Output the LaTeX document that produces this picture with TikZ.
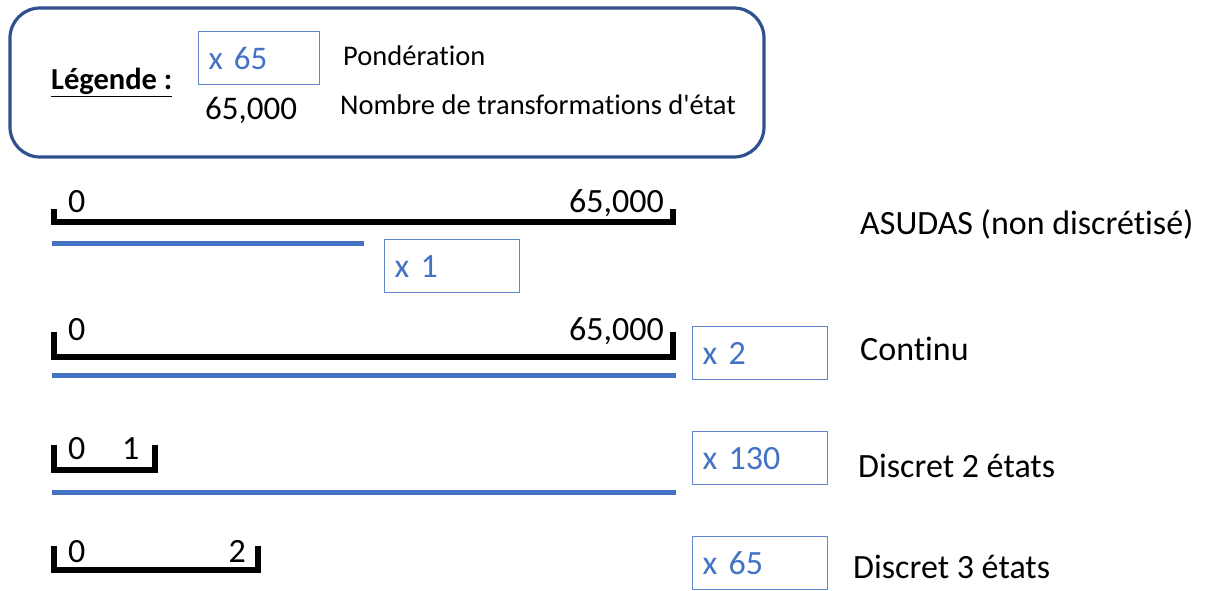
\documentclass[tikz,border=0pt]{standalone}
\usepackage{fontspec}
\setmainfont{Carlito}[Ligatures={NoCommon}]
\newfontfamily\plaincal{Carlito}[Ligatures={NoCommon}]
\definecolor{accent}{HTML}{4472C4}
\definecolor{framec}{HTML}{2F528F}
\definecolor{lightbar}{HTML}{9DB9E6}
\begin{document}
\begin{tikzpicture}[x=1pt,y=-1pt,
  lbl/.style={anchor=base west, inner sep=0pt, font=\plaincal\fontsize{34}{40}\selectfont},
  axlbl/.style={anchor=base west, inner sep=0pt, font=\plaincal\fontsize{34}{40}\selectfont},
  axlblr/.style={anchor=base east, inner sep=0pt, font=\plaincal\fontsize{34}{40}\selectfont},
  legtxt/.style={anchor=base west, inner sep=0pt, font=\plaincal\fontsize{28.5}{34}\selectfont},
  wbox/.style={draw=accent!85, line width=1.2pt, minimum height=53pt, text width=115pt,
    inner xsep=10pt, inner ysep=0pt, align=left, text=accent, font=\plaincal\fontsize{34}{40}\selectfont},
  bracketline/.style={line width=5.5pt, line cap=butt, line join=miter},
  bar/.style={draw=accent, line width=5pt},
  legendframe/.style={draw=framec, line width=3.2pt, rounded corners=30pt, minimum width=754pt, minimum height=149pt}
]
\useasboundingbox (0,0) rectangle (1209,591);

% legend
\node[legendframe] (legend) at (387,82.5) {};
\node[anchor=base west, inner sep=0pt, font=\plaincal\fontsize{30.5}{36}\selectfont\bfseries] (legtitle) at (51,90) {\underline{Légende :}};
\node[wbox, text width=101pt, minimum height=53pt, anchor=north west, font=\plaincal\fontsize{33}{40}\selectfont] (legbox) at (198,31) {x 65};
\node[legtxt] (pond) at (343,66) {Pondération};
\node[anchor=base west, inner sep=0pt, font=\plaincal\fontsize{33}{40}\selectfont] (legnum) at (205,120) {65,000};
\node[legtxt] (nbtr) at (340,115) {Nombre de transformations d'état};

% axis 1 : ASUDAS
\coordinate (a1l) at (54,209);
\coordinate (a1r) at (673,209);
\draw[bracketline] (a1l) |- (673,222) -- (a1r);
\node[axlbl] (a1z) at (68,212) {0};
\node[axlblr] (a1m) at (664,212) {65,000};
\coordinate (p1s) at (52,243);
\coordinate (p1e) at (364,243);
\draw[bar] (p1s) -- (p1e);
\node[wbox, anchor=north west] (b1) at (384,239) {x 1};
\node[lbl] (t1) at (860,234) {ASUDAS (non discrétisé)};

% axis 2 : Continu
\coordinate (a2l) at (54,332);
\coordinate (a2r) at (673,332);
\draw[bracketline] (a2l) |- (673,357) -- (a2r);
\node[axlbl] (a2z) at (68,340) {0};
\node[axlblr] (a2m) at (664,340) {65,000};
\coordinate (p2s) at (52,375);
\coordinate (p2e) at (676,375);
\draw[bar] (p2s) -- (p2e);
\node[wbox, anchor=north west] (b2) at (692,326) {x 2};
\node[lbl] (t2) at (860,360) {Continu};

% axis 3 : Discret 2 etats
\coordinate (a3l) at (54,445);
\coordinate (a3r) at (155,445);
\draw[bracketline] (a3l) |- (155,470) -- (a3r);
\node[axlbl] (a3z) at (68,459) {0};
\node[axlbl] (a3m) at (122,459) {1};
\coordinate (p3s) at (52,492);
\coordinate (p3e) at (676,492);
\draw[bar] (p3s) -- (p3e);
\node[wbox, anchor=north west] (b3) at (692,431) {x 130};
\node[lbl] (t3) at (858,477) {Discret 2 états};

% axis 4 : Discret 3 etats
\coordinate (a4l) at (54,546);
\coordinate (a4r) at (258,546);
\draw[bracketline] (a4l) |- (258,570) -- (a4r);
\node[axlbl] (a4z) at (68,562) {0};
\node[axlblr] (a4m) at (246,562) {2};
\coordinate (p4s) at (52,592);
\coordinate (p4e) at (676,592);
\draw[draw=lightbar, line width=3pt] (p4s) -- (p4e);
\node[wbox, anchor=north west] (b4) at (692,536) {x 65};
\node[lbl] (t4) at (853,578) {Discret 3 états};
\end{tikzpicture}
\end{document}
